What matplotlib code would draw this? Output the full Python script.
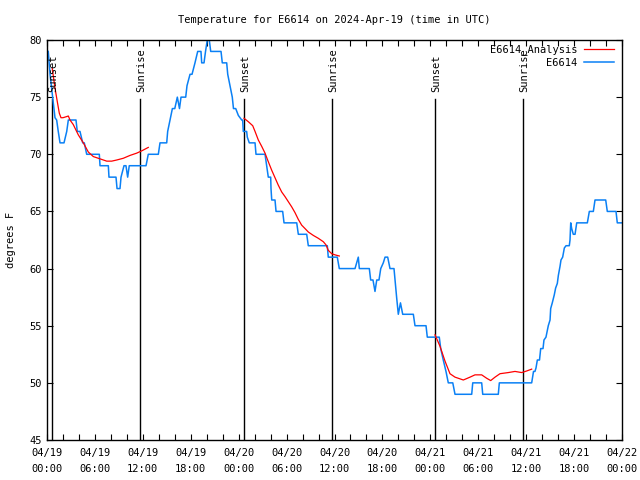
import matplotlib
matplotlib.use("Agg")
import matplotlib.pyplot as plt
from matplotlib.ticker import MultipleLocator

# ---- data (hours since 2024-04-19 00:00 UTC) ----
blue_t = [0.16, 0.38, 0.71, 1.0, 1.21, 1.41, 1.63, 1.84, 2.13, 2.47, 2.67, 3.63, 3.79, 4.13, 4.47, 4.67,
          4.97, 6.55, 6.64, 7.68, 7.76, 8.64, 8.77, 9.14, 9.27, 9.64, 9.89, 10.1, 10.3, 12.4, 12.68,
          13.94, 14.15, 14.99, 15.11, 15.4, 15.7, 16.0, 16.32, 16.59, 16.78, 17.37, 17.53, 17.91,
          18.16, 18.53, 18.87, 19.28, 19.37, 19.66, 19.85, 20.07, 20.32, 20.5, 21.79, 21.95, 22.5,
          22.63, 22.92, 23.2, 23.35, 23.63, 23.96, 24.38, 24.5, 24.58, 25.0, 25.08, 25.33, 26.05,
          26.17, 27.3, 27.51, 27.71, 28.01, 28.05, 28.14, 28.55, 28.68, 29.51, 29.68, 31.27, 31.47,
          32.52, 32.72, 35.1, 35.22, 36.35, 36.6, 38.57, 38.98, 39.11, 40.36, 40.53, 40.82, 41.07,
          41.29, 41.57, 41.79, 42.11, 42.33, 42.66, 42.95, 43.45, 43.58, 43.79, 43.99, 44.26, 44.54,
          45.87, 46.08, 47.46, 47.62, 49.12, 49.3, 49.62, 49.96, 50.25, 50.81, 51.09, 53.18, 53.31,
          54.43, 54.56, 56.51, 56.64, 60.69, 60.92, 61.1, 61.23, 61.4, 61.67, 61.82, 62.11, 62.23,
          62.48, 62.77, 62.99, 63.07, 63.27, 63.52, 63.69, 63.9, 64.03, 64.24, 64.36, 64.57, 64.78,
          64.99, 65.4, 65.49, 65.58, 65.7, 65.9, 66.12, 66.33, 67.66, 67.79, 67.91, 68.41, 68.62,
          69.96, 70.16, 71.25, 71.41, 72.0]
blue_v = [79, 77, 75, 73.2, 73, 72, 71, 71, 71, 72, 73, 73, 72, 72, 71, 71,
          70, 70, 69, 69, 68, 68, 67, 67, 68, 69, 69, 68, 69, 69, 70,
          70, 71, 71, 72, 73, 74, 74, 75, 74, 75, 75, 76, 77,
          77, 78, 79, 79, 78, 78, 79, 80, 80, 79, 79, 78, 78,
          77, 76, 75, 74, 74, 73.4, 73, 73, 72, 72, 71.5, 71, 71,
          70, 70, 69, 68, 68, 67, 66, 66, 65, 65, 64, 64, 63,
          63, 62, 62, 61, 61, 60, 60, 61, 60, 60, 59, 59, 58,
          59, 59, 60, 60.5, 61, 61, 60, 60, 59, 57.4, 56, 57, 56,
          56, 55, 55, 54, 54, 53, 52, 51, 50, 50, 49, 49, 50,
          50, 49, 49, 50, 50, 51, 51, 51.3, 52, 52, 53, 53, 53.75,
          54, 55, 55.5, 56.5, 57, 57.7, 58.3, 58.7, 59.4, 60.2, 60.75, 61, 61.8,
          62, 62, 62.5, 64, 63.5, 63, 63, 64, 64, 64.5, 65, 65, 66,
          66, 65, 65, 64, 64]

red1_t = [0.66, 1.0, 1.29, 1.54, 1.75, 2.0, 2.47, 2.67, 2.88, 3.29, 3.92, 4.55, 5.17, 5.8, 6.64,
          7.48, 8.1, 8.73, 9.55, 10.39, 11.23, 11.86, 12.68]
red1_v = [77.5, 75.8, 74.6, 73.6, 73.2, 73.2, 73.3, 73.35, 73.0, 72.6, 71.7, 71.0, 70.2, 69.8, 69.6,
          69.4, 69.4, 69.5, 69.65, 69.9, 70.1, 70.3, 70.6]
red2_t = [24.67, 25.21, 25.76, 26.05, 26.46, 26.88, 27.3, 27.71, 28.14, 28.55, 28.96, 29.39, 29.8,
          30.22, 30.64, 31.05, 31.47, 31.89, 32.31, 32.72, 33.35, 33.97, 34.6, 34.94, 35.22, 35.65,
          36.06, 36.6]
red2_v = [73.15, 72.85, 72.5, 72.0, 71.25, 70.7, 70.1, 69.35, 68.6, 67.95, 67.3, 66.7, 66.3,
          65.85, 65.4, 64.9, 64.3, 63.8, 63.5, 63.2, 62.9, 62.65, 62.35, 62.07, 61.6, 61.3,
          61.2, 61.1]
red3_t = [48.59, 49.21, 49.84, 50.46, 51.09, 52.13, 52.97, 53.59, 54.43, 55.06, 55.56, 56.1, 56.72,
          57.76, 58.6, 59.44, 60.07, 60.69]
red3_v = [54.2, 53.2, 51.9, 50.8, 50.5, 50.25, 50.5, 50.7, 50.7, 50.4, 50.2, 50.5, 50.8,
          50.9, 51.0, 50.9, 51.04, 51.2]

sun_t = [0.67, 11.65, 24.7, 35.72, 48.62, 59.65]
sun_labels = ["Sunset", "Sunrise", "Sunset", "Sunrise", "Sunset", "Sunrise"]

tick_hours = list(range(0, 73, 6))
tick_labels = ["04/19\n00:00", "04/19\n06:00", "04/19\n12:00", "04/19\n18:00",
               "04/20\n00:00", "04/20\n06:00", "04/20\n12:00", "04/20\n18:00",
               "04/21\n00:00", "04/21\n06:00", "04/21\n12:00", "04/21\n18:00",
               "04/22\n00:00"]
y_ticks = [45, 50, 55, 60, 65, 70, 75, 80]

title = "Temperature for E6614 on 2024-Apr-19 (time in UTC)"

# ---- plot ----
plt.rcParams['font.family'] = ['DejaVu Sans Mono']
plt.rcParams['font.size'] = 7

fig = plt.figure(figsize=(6.4, 4.8), dpi=100)
ax = fig.add_axes([47/640, 40/480, 575/640, 400/480])

blue = '#0a80f5'
red = '#ff0000'

ax.plot(red1_t, red1_v, color=red, lw=0.9, label='E6614_Analysis', zorder=3)
ax.plot(red2_t, red2_v, color=red, lw=0.9, zorder=3)
ax.plot(red3_t, red3_v, color=red, lw=0.9, zorder=3)
ax.plot(blue_t, blue_v, color=blue, lw=1.1, label='E6614', zorder=2)

for t, lab in zip(sun_t, sun_labels):
    ax.plot([t, t], [45, 74.85], color='black', lw=1.0, zorder=1)
    ax.text(t + 0.15, 75.45, lab, rotation=90, ha='center', va='bottom', fontsize=7.5)

ax.set_xlim(0, 72)
ax.set_ylim(45, 80)
ax.set_xticks(tick_hours)
ax.set_xticklabels(tick_labels, linespacing=1.75)
ax.xaxis.set_minor_locator(MultipleLocator(2))
ax.set_yticks(y_ticks)
ax.tick_params(axis='both', which='both', direction='in', top=True, right=True,
               length=4, width=0.8, labelsize=7.5)
ax.tick_params(axis='x', which='major', pad=6)
ax.tick_params(axis='y', which='major', pad=4)
for s in ax.spines.values():
    s.set_linewidth(1.0)
    s.set_color('black')

ax.set_ylabel('degrees F', fontsize=7.5, labelpad=9)
ax.set_title(title, fontsize=7.5, pad=12)

leg = ax.legend(loc='upper right', frameon=False, markerfirst=False, fontsize=7.5,
                handlelength=2.9, handletextpad=0.6, borderaxespad=0.2, labelspacing=0.25,
                borderpad=0.2, bbox_to_anchor=(0.993, 1.0))

fig.savefig('out.png', dpi=100)
